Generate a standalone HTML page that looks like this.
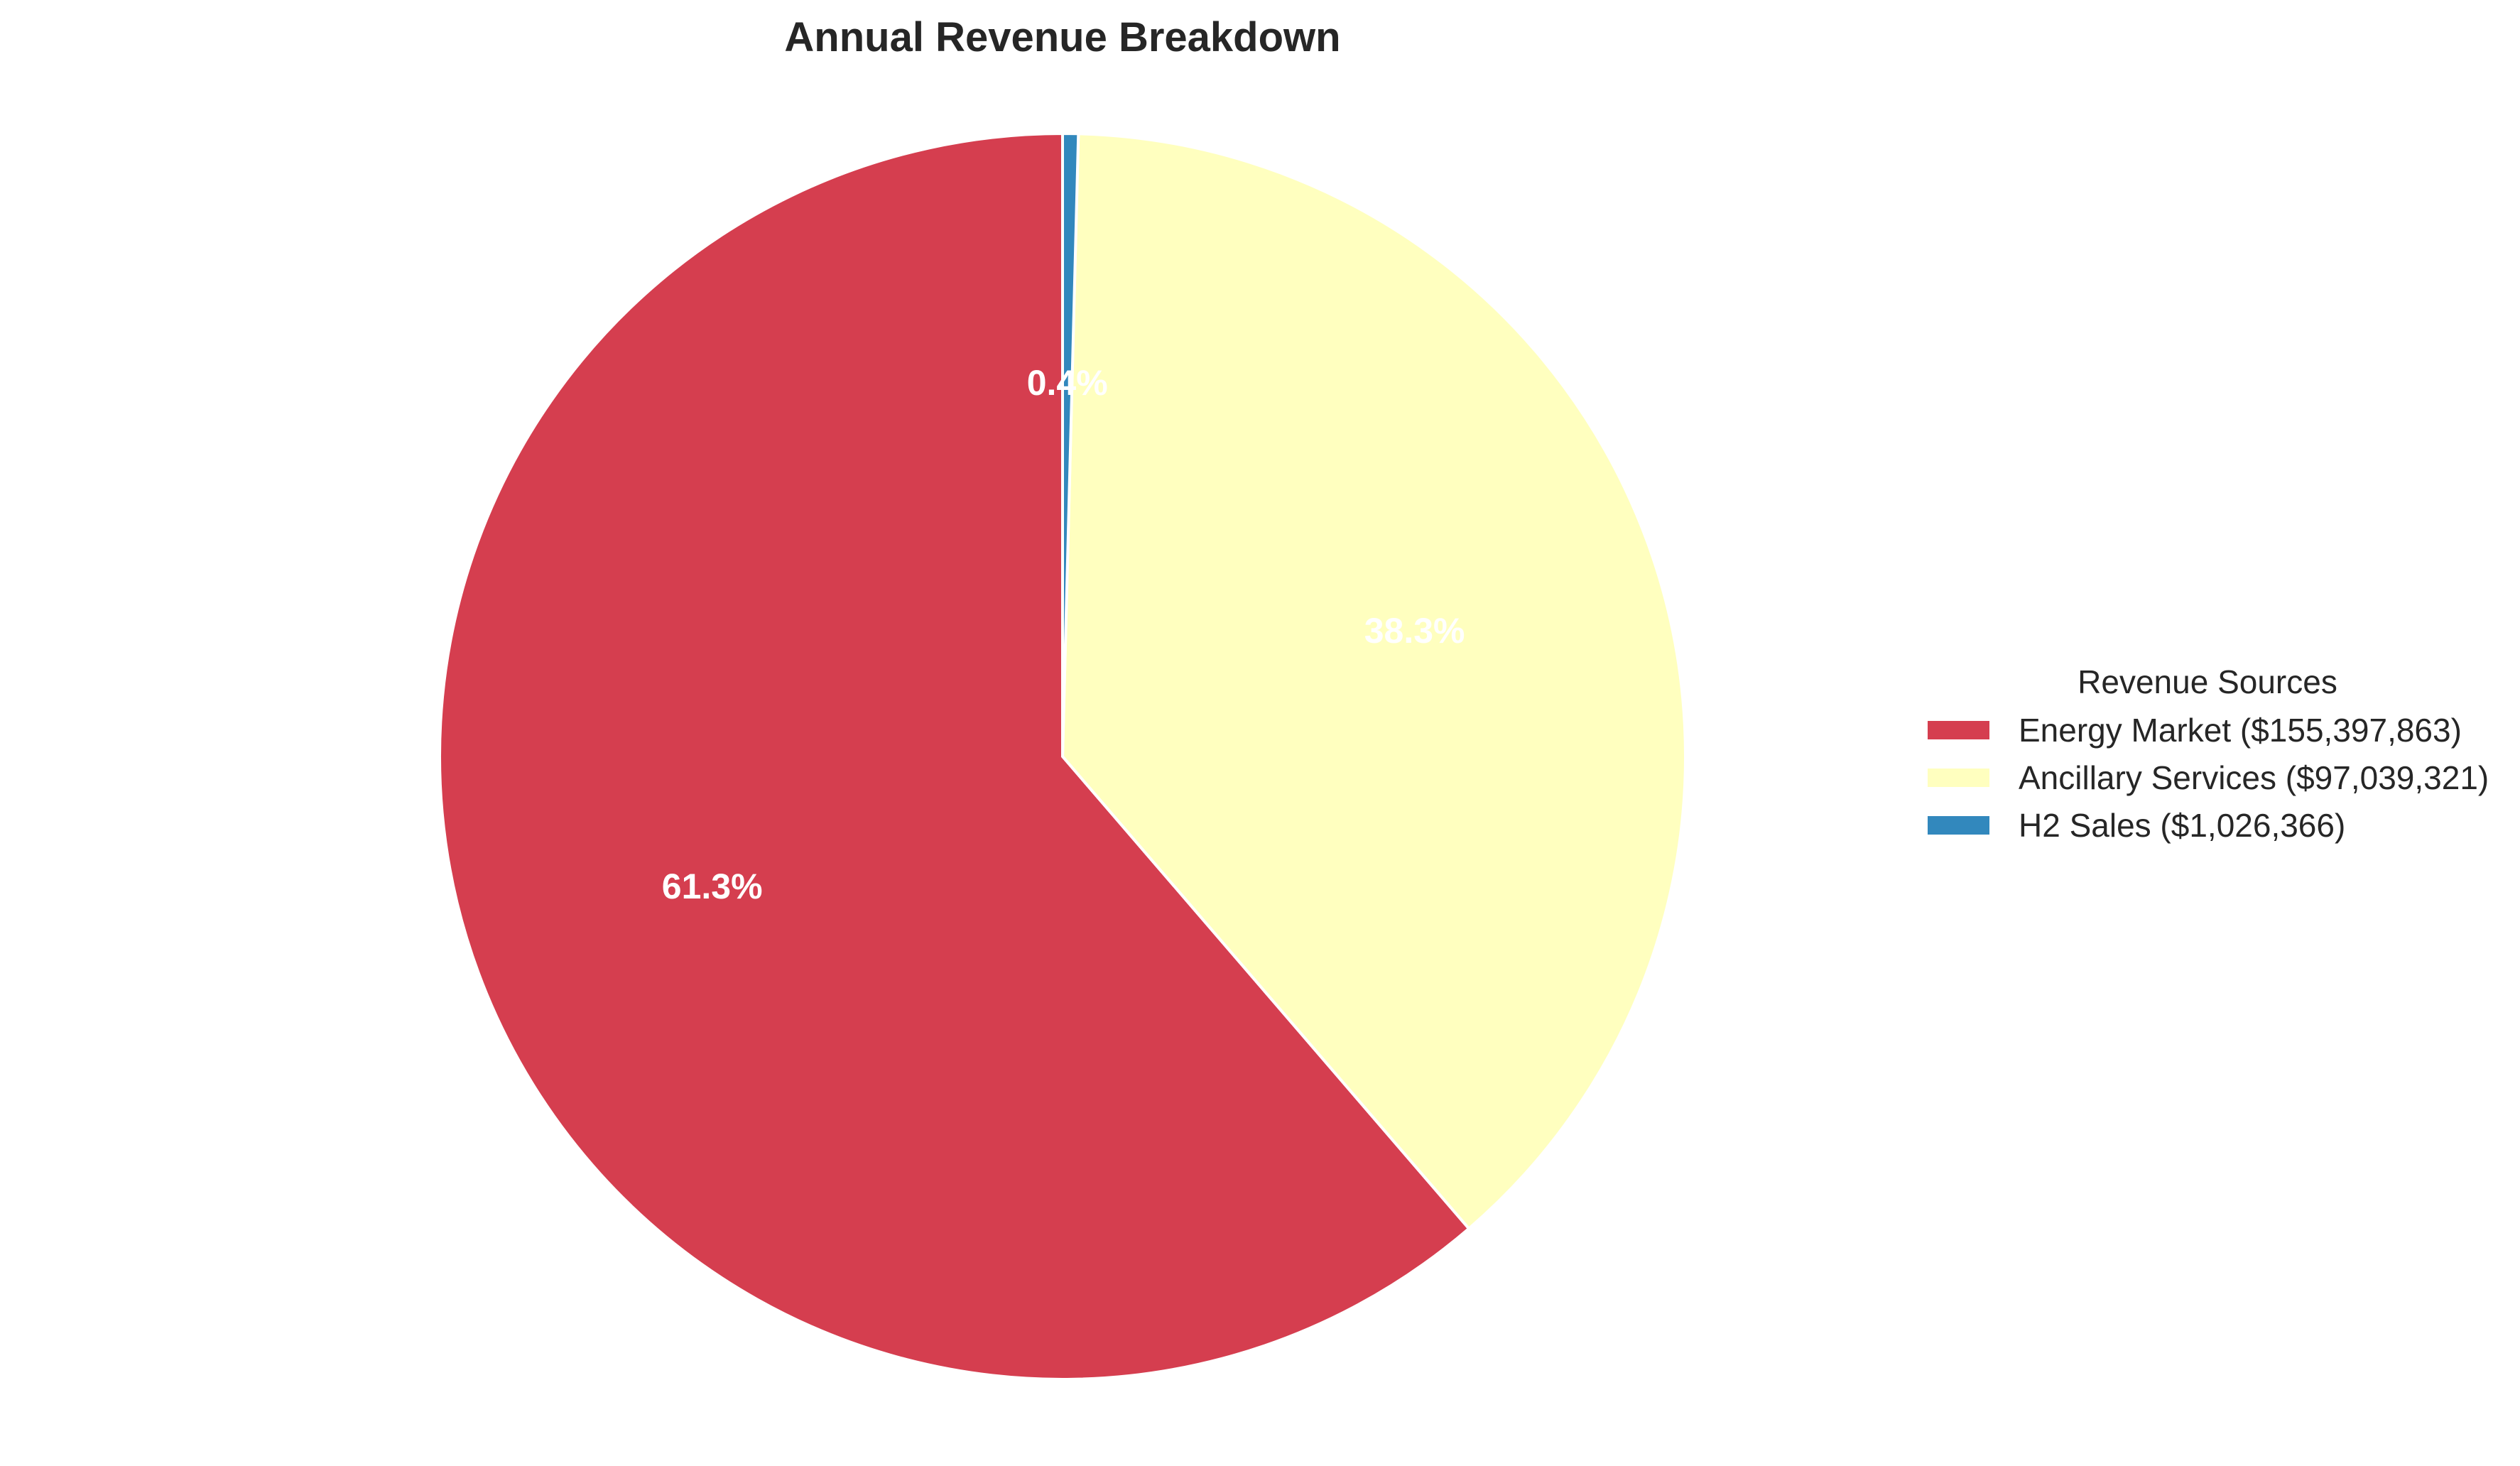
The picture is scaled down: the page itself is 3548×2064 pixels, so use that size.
<!DOCTYPE html>
<html><head><meta charset="utf-8"><style>
html,body{margin:0;padding:0;background:#fff;}
svg{display:block;font-family:"Liberation Sans",sans-serif;}
</style></head><body>
<svg id="chart" width="3548" height="2064" viewBox="0 0 3548 2064">
<text x="1496" y="72" text-anchor="middle" font-size="58" font-weight="bold" fill="#262626">Annual Revenue Breakdown</text>
<g id="slices"></g>
<g id="labels"></g>
<g id="legend">
<text x="3108" y="976" text-anchor="middle" font-size="46" fill="#262626">Revenue Sources</text>
</g>
</svg>
<script>
const categories = ["Energy Market", "Ancillary Services", "H2 Sales"];
const values = [155397863, 97039321, 1026366];
const colors = ["#d53e4f", "#ffffbf", "#3288bd"];
const NS = "http://www.w3.org/2000/svg";
const cx = 1496, cy = 1065, R = 877;
const total = values.reduce((a,b)=>a+b,0);
const slices = document.getElementById("slices");
const labels = document.getElementById("labels");
const legend = document.getElementById("legend");
function pt(deg, r){const a=deg*Math.PI/180;return [cx+r*Math.cos(a), cy-r*Math.sin(a)];}
let start = 90;
values.forEach((v,i)=>{
  const sweep = v/total*360;
  const end = start + sweep;
  const [x1,y1]=pt(start,R), [x2,y2]=pt(end,R);
  const p=document.createElementNS(NS,"path");
  p.setAttribute("d",`M${cx},${cy} L${x1},${y1} A${R},${R} 0 ${sweep>180?1:0} 0 ${x2},${y2} Z`);
  p.setAttribute("fill",colors[i]);
  p.setAttribute("stroke","#fff");
  p.setAttribute("stroke-width","4");
  
  
  slices.appendChild(p);
  const [lx,ly]=pt(start+sweep/2, R*0.6);
  const t=document.createElementNS(NS,"text");
  t.setAttribute("x",lx);t.setAttribute("y",ly+17);
  t.setAttribute("text-anchor","middle");t.setAttribute("font-size","50");
  t.setAttribute("font-weight","bold");t.setAttribute("fill","#fff");
  t.textContent=(v/total*100).toFixed(1)+"%";
  
  
  labels.appendChild(t);
  const ry = 1028 + i*67;
  const r=document.createElementNS(NS,"rect");
  r.setAttribute("x",2714);r.setAttribute("y",ry-13);r.setAttribute("width",87);r.setAttribute("height",26);
  r.setAttribute("fill",colors[i]);
  
  
  legend.appendChild(r);
  const lt=document.createElementNS(NS,"text");
  lt.setAttribute("x",2842);lt.setAttribute("y",ry+16);
  lt.setAttribute("font-size","46");lt.setAttribute("fill","#262626");
  lt.textContent=categories[i]+" ($"+v.toLocaleString("en-US")+")";
  
  
  legend.appendChild(lt);
  start = end;
});
</script>
</body></html>
